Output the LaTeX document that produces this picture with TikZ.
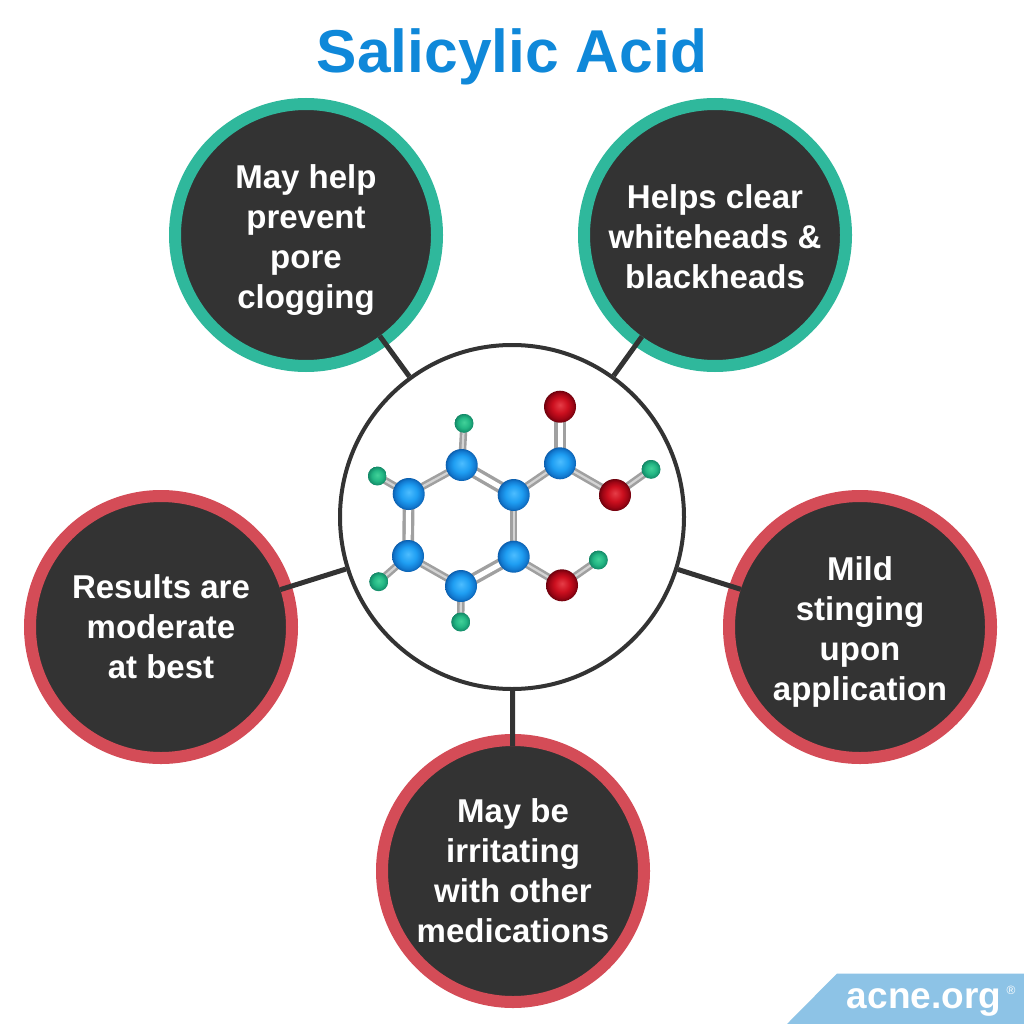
\documentclass[tikz,border=0pt]{standalone}
\usepackage{fontspec}
\setmainfont{Liberation Sans}
\usetikzlibrary{backgrounds}
\definecolor{titleblue}{HTML}{0F88D9}
\definecolor{ringgreen}{HTML}{2FB89C}
\definecolor{ringred}{HTML}{D44C57}
\definecolor{darkfill}{HTML}{333333}
\definecolor{logoblue}{HTML}{8DC3E6}
\definecolor{bondgray}{HTML}{A0A0A0}
\definecolor{bondlight}{HTML}{D4D4D4}
\pgfdeclareradialshading{bluesphere}{\pgfpoint{0bp}{3bp}}{%
  rgb(0bp)=(0.30,0.74,1.00); rgb(13bp)=(0.12,0.62,0.95); rgb(21bp)=(0.07,0.48,0.82); rgb(27bp)=(0.03,0.32,0.62)}
\pgfdeclareradialshading{redsphere}{\pgfpoint{0bp}{3bp}}{%
  rgb(0bp)=(0.90,0.24,0.28); rgb(12bp)=(0.80,0.06,0.12); rgb(20bp)=(0.62,0.02,0.08); rgb(27bp)=(0.36,0.00,0.04)}
\pgfdeclareradialshading{greensphere}{\pgfpoint{0bp}{3bp}}{%
  rgb(0bp)=(0.26,0.82,0.60); rgb(14bp)=(0.14,0.72,0.52); rgb(27bp)=(0.06,0.50,0.38)}
\begin{document}
\begin{tikzpicture}[x=1pt, y=-1pt,
    effect/.style={circle, minimum size=262pt, inner sep=0pt, outer sep=-6pt, line width=12pt,
      fill=darkfill, text=white, align=center, font=\fontsize{33}{40}\selectfont\bfseries},
    good/.style={effect, draw=ringgreen},
    bad/.style={effect, draw=ringred},
    spoke/.style={line width=5pt, draw=darkfill},
    carbon/.style={circle, minimum size=32pt, inner sep=0pt, shading=bluesphere},
    oxygen/.style={circle, minimum size=32pt, inner sep=0pt, shading=redsphere},
    hydrogen/.style={circle, minimum size=19pt, inner sep=0pt, shading=greensphere},
    bond/.style={draw=bondgray, line width=2.6pt, double=bondlight, double distance=2.2pt},
    dblbond/.style={draw=bondgray, line width=3.4pt, double=white, double distance=5pt}]

  \useasboundingbox (0, 0) rectangle (1024, 1024);

  % Title
  \node[font=\fontsize{60.5}{60.5}\selectfont\bfseries, text=titleblue] (title) at (512, 57) {Salicylic Acid};

  % Centre circle
  \node[circle, minimum size=344pt, inner sep=0pt, line width=4pt, draw=darkfill] (hub) at (512, 517) {};

  % Effects (the rule pushes a text down a little)
  \node[good] (clog) at (306, 235) {\rule{0pt}{33pt}May help\\prevent\\pore\\clogging};
  \node[good] (clear) at (715, 235) {\rule{0pt}{27pt}Helps clear\\whiteheads \&\\blackheads};
  \node[bad] (moderate) at (161, 627) {Results are\\moderate\\at best};
  \node[bad] (sting) at (860, 627) {\rule{0pt}{33pt}Mild\\stinging\\upon\\application};
  \node[bad] (irritate) at (513, 871) {May be\\irritating\\with other\\medications};

  % Spokes
  \draw[spoke] (hub) -- (clog);
  \draw[spoke] (hub) -- (clear);
  \draw[spoke] (hub) -- (moderate);
  \draw[spoke] (hub) -- (sting);
  \draw[spoke] (hub) -- (irritate);

  % Ring atoms
  \node[carbon] (c1) at (461.7, 465) {};
  \node[carbon] (c2) at (513.7, 495) {};
  \node[carbon] (c3) at (513.7, 556.7) {};
  \node[carbon] (c4) at (461, 586) {};
  \node[carbon] (c5) at (408, 556) {};
  \node[carbon] (c6) at (408.7, 494) {};

  % Side groups
  \node[carbon] (c7) at (560, 463.3) {};
  \node[oxygen] (o1) at (560, 406.7) {};
  \node[oxygen] (o2) at (615, 495) {};
  \node[oxygen] (o3) at (562, 585.3) {};

  % Hydrogens
  \node[hydrogen] (h1) at (464, 423.3) {};
  \node[hydrogen] (h2) at (377.3, 476) {};
  \node[hydrogen] (h3) at (378.7, 581.7) {};
  \node[hydrogen] (h4) at (460.7, 622) {};
  \node[hydrogen] (h5) at (651, 469.3) {};
  \node[hydrogen] (h6) at (598.3, 560) {};

  % Bonds go behind the atoms
  \begin{scope}[on background layer]
    \fill[white] (0, 0) rectangle (1024, 1024);
    \draw[dblbond] (c1.center) -- (c2.center);
    \draw[dblbond] (c3.center) -- (c4.center);
    \draw[dblbond] (c5.center) -- (c6.center);
    \draw[dblbond] (c7.center) -- (o1.center);
    \draw[bond] (c2.center) -- (c3.center);
    \draw[bond] (c4.center) -- (c5.center);
    \draw[bond] (c6.center) -- (c1.center);
    \draw[bond] (c2.center) -- (c7.center);
    \draw[bond] (c7.center) -- (o2.center);
    \draw[bond] (c3.center) -- (o3.center);
    \draw[bond] (c1.center) -- (h1.center);
    \draw[bond] (c6.center) -- (h2.center);
    \draw[bond] (c5.center) -- (h3.center);
    \draw[bond] (c4.center) -- (h4.center);
    \draw[bond] (o2.center) -- (h5.center);
    \draw[bond] (o3.center) -- (h6.center);
  \end{scope}

  % Logo
  \fill[logoblue] (837, 973.5) -- (1024, 973.5) -- (1024, 1024) -- (787, 1024) -- cycle;
  \node[font=\fontsize{37}{37}\selectfont\bfseries, text=white, inner sep=0pt] (logo) at (924, 1002) {acne.org};
  \node[font=\fontsize{12}{12}\selectfont, text=white, inner sep=0pt] (reg) at (1011, 990) {®};
\end{tikzpicture}
\end{document}
